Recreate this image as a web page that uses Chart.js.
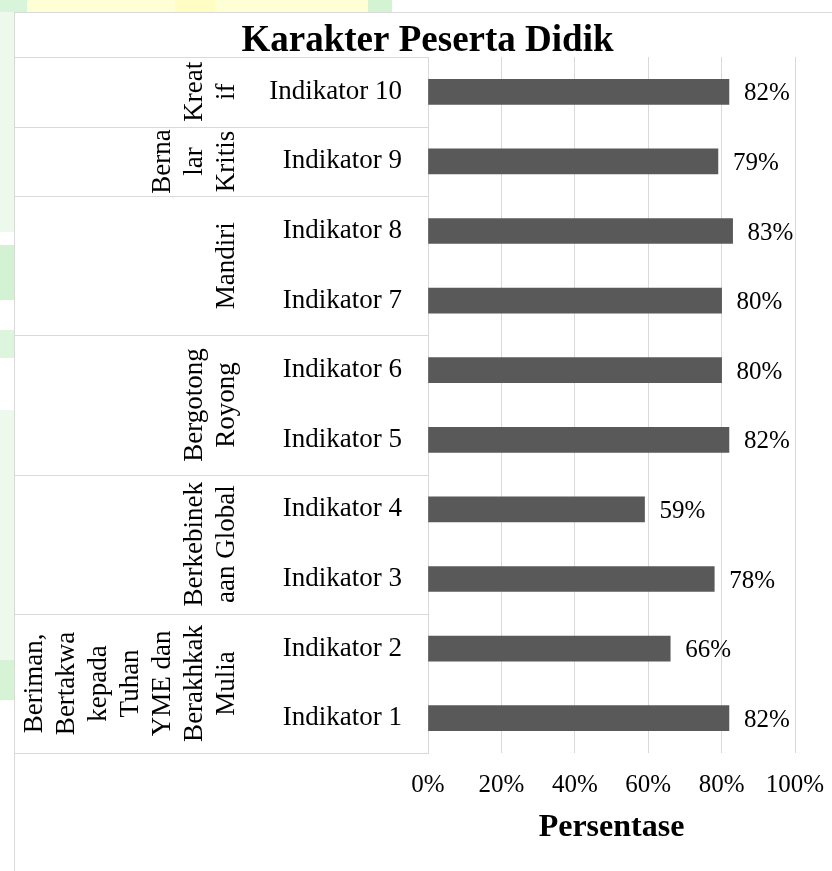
<!DOCTYPE html>
<html>
<head>
<meta charset="utf-8">
<title>Karakter Peserta Didik</title>
<script src="https://cdn.jsdelivr.net/npm/chart.js@4.4.1/dist/chart.umd.min.js"></script>
<style>
  html, body { margin: 0; padding: 0; background: #fff; }
  body { width: 832px; height: 871px; position: relative; overflow: hidden; }
  .deco { position: absolute; }
  #box {
    position: absolute; left: 14px; top: 12px; width: 818px; height: 859px;
    box-sizing: border-box; border-left: 1px solid #d9d9d9; border-top: 1px solid #d9d9d9;
    background: #fff;
  }
  #chartId { display: block; }
</style>
</head>
<body>
<!-- page background bits around the chart -->
<div class="deco" style="left:0;top:0;width:27px;height:12px;background:#d9f5d9"></div>
<div class="deco" style="left:27px;top:0;width:341px;height:12px;background:#ffffd6"></div>
<div class="deco" style="left:175px;top:0;width:40px;height:12px;background:#fffcc4"></div>
<div class="deco" style="left:368px;top:0;width:24px;height:12px;background:#d3f3d3"></div>
<div class="deco" style="left:0;top:12px;width:14px;height:220px;background:#eef9ee"></div>
<div class="deco" style="left:0;top:245px;width:14px;height:55px;background:#d3f2d3"></div>
<div class="deco" style="left:0;top:330px;width:14px;height:28px;background:#dcf5dc"></div>
<div class="deco" style="left:0;top:410px;width:14px;height:250px;background:#eef9ee"></div>
<div class="deco" style="left:0;top:660px;width:14px;height:40px;background:#d6f3d6"></div>

<div id="box"><canvas id="chartId" width="817" height="858"></canvas></div>

<script>
var indikator = ['Indikator 1', 'Indikator 2', 'Indikator 3', 'Indikator 4', 'Indikator 5',
                 'Indikator 6', 'Indikator 7', 'Indikator 8', 'Indikator 9', 'Indikator 10'];
var persen = [82, 66, 78, 59, 82, 80, 80, 83, 79, 82];
var xTicks = [0, 20, 40, 60, 80, 100];

// dimensi profil, from the bottom up, and how many indicators each one covers
var dimensi = [
  ['Beriman,', 'Bertakwa', 'kepada', 'Tuhan', 'YME dan', 'Berakhkak', 'Mulia'],
  ['Berkebinek', 'aan Global'],
  ['Bergotong', 'Royong'],
  ['Mandiri'],
  ['Berna', 'lar', 'Kritis'],
  ['Kreat', 'if']
];
var jumlahIndikator = [2, 2, 2, 2, 1, 1];

var serif = "'Liberation Serif', 'Times New Roman', serif";

// left part of the category axis: the little table with the rotated group names
const tabelDimensi = {
  id: 'tabelDimensi',
  afterDraw(chart) {
    const ctx = chart.ctx;
    const y = chart.scales.y;
    const area = chart.chartArea;
    const step = Math.abs(y.getPixelForValue(1) - y.getPixelForValue(0));
    ctx.save();
    ctx.strokeStyle = '#d9d9d9';
    ctx.lineWidth = 1;

    let idx = 0;
    dimensi.forEach((lines, g) => {
      const first = idx, last = idx + jumlahIndikator[g] - 1;
      const pBottom = y.getPixelForValue(first) + step / 2;
      const pTop = y.getPixelForValue(last) - step / 2;
      // separator lines
      [pBottom, pTop].forEach(p => {
        const yy = Math.round(p) + 0.5;
        ctx.beginPath();
        ctx.moveTo(0, yy);
        ctx.lineTo(area.left, yy);
        ctx.stroke();
      });
      // rotated label
      const cy = (pBottom + pTop) / 2;
      ctx.save();
      ctx.fillStyle = '#000';
      ctx.font = '27px ' + serif;
      ctx.textAlign = 'center';
      ctx.textBaseline = 'middle';
      lines.forEach((txt, i) => {
        const cx = 212 - (lines.length - 1 - i) * 32;
        ctx.save();
        ctx.translate(cx, cy);
        ctx.rotate(-Math.PI / 2);
        ctx.fillText(txt, 0, 0);
        ctx.restore();
      });
      ctx.restore();
      idx = last + 1;
    });
    ctx.restore();
  }
};

// value labels at the end of each bar
const labelNilai = {
  id: 'labelNilai',
  afterDatasetsDraw(chart) {
    const ctx = chart.ctx;
    const meta = chart.getDatasetMeta(0);
    ctx.save();
    ctx.fillStyle = '#000';
    ctx.font = '25px ' + serif;
    ctx.textAlign = 'left';
    ctx.textBaseline = 'middle';
    meta.data.forEach((bar, i) => {
      ctx.fillText(persen[i] + '%', bar.x + 15, bar.y + 2);
    });
    ctx.restore();
  }
};

var chrt = document.getElementById('chartId').getContext('2d');

let chartConfig = {
  type: 'bar',
  data: {
    labels: indikator,
    datasets: [{
      label: 'Persentase',
      data: persen,
      backgroundColor: '#595959',
      borderWidth: 0,
      barThickness: 25
    }]
  },
  options: {
    indexAxis: 'y',
    responsive: false,
    animation: false,
    layout: { padding: { left: 8, right: 0, top: 0, bottom: 0 } },
    plugins: {
      legend: { display: false },
      tooltip: { enabled: false },
      title: {
        display: true,
        text: 'Karakter Peserta Didik',
        color: '#000',
        font: { family: serif, size: 37, weight: 'bold', lineHeight: 0.8 },
        padding: { top: 14, bottom: 0.4 }
      }
    },
    scales: {
      x: {
        min: 0,
        max: 100,
        afterBuildTicks: function (scale) {
          scale.ticks = xTicks.map(v => ({ value: v }));
        },
        afterFit: function (scale) {
          scale.height = 118;
          scale.paddingLeft = 0;
          scale.paddingRight = 37;
        },
        grid: { color: '#d9d9d9', lineWidth: 1, drawTicks: false },
        border: { display: false },
        ticks: {
          color: '#000',
          padding: 17,
          font: { family: serif, size: 25 },
          callback: v => v + '%'
        },
        title: {
          display: true,
          text: 'Persentase',
          color: '#000',
          font: { family: serif, size: 32, weight: 'bold' },
          padding: { top: 0, bottom: 24 }
        }
      },
      y: {
        reverse: true,
        afterFit: function (scale) {
          scale.width = 405;
          scale.paddingTop = 0;
          scale.paddingBottom = 0;
        },
        grid: { display: false, drawTicks: false },
        border: { display: true, color: '#d9d9d9', width: 1 },
        ticks: {
          color: '#000',
          padding: 26,
          font: { family: serif, size: 27 }
        }
      }
    }
  },
  plugins: [tabelDimensi, labelNilai]
};

window.barChart = new Chart(chrt, chartConfig);
</script>
</body>
</html>
